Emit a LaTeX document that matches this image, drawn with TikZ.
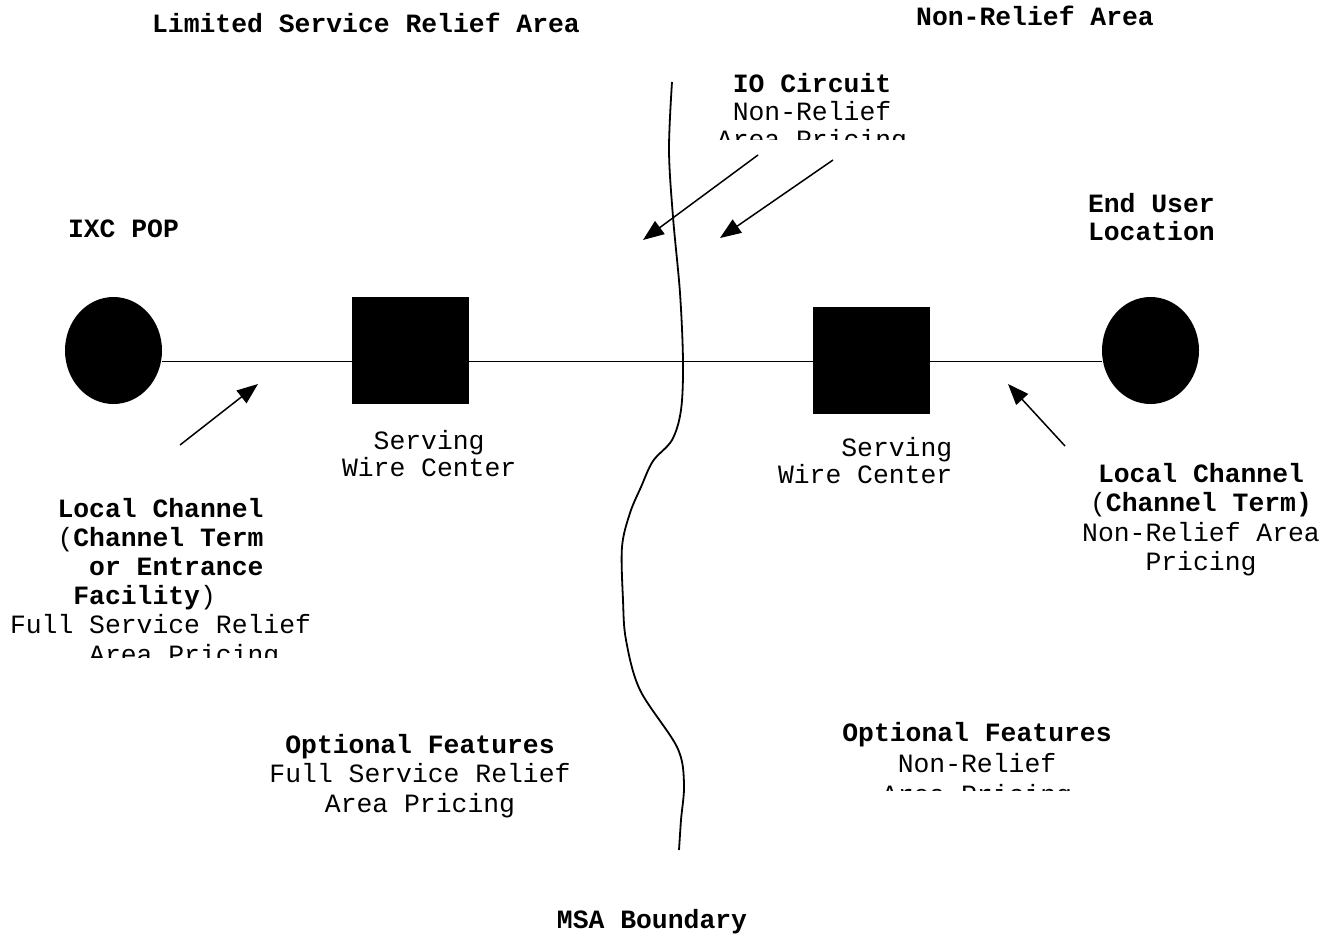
\documentclass[tikz,border=0pt]{standalone}
\usepackage{fontspec}
\setmainfont{Liberation Mono}
\usetikzlibrary{arrows.meta,shapes.geometric}
\begin{document}
\begin{tikzpicture}[x=1pt,y=-1pt,
  lbl/.style={inner sep=0pt, outer sep=0pt, font=\fontsize{26.4pt}{29pt}\selectfont},
  bl/.style={lbl, font=\fontsize{26.4pt}{29pt}\selectfont\bfseries},
  blob/.style={ellipse, fill=black, draw=none, inner sep=0pt, minimum width=97pt, minimum height=107pt},
  swc/.style={rectangle, fill=black, draw=none, inner sep=0pt, minimum width=117pt, minimum height=107pt},
  wire/.style={line width=1.8pt},
  ptr/.style={line width=1.5pt, -{Triangle[length=21pt,width=16pt]}},
  msa/.style={line width=1.8pt}]
\useasboundingbox (0,0) rectangle (1339,937);

% titles
\node[bl,anchor=base] (ttlL) at (366,32) {Limited Service Relief Area};
\node[bl,anchor=base] (ttlR) at (1035,25) {Non-Relief Area};
\node[bl,anchor=base] (msaT) at (652,928) {MSA Boundary};

% MSA boundary
\draw[msa] plot[smooth, tension=0.55] coordinates {(672,82) (669,150) (673,217) (680,293) (683,362) (681,410) (672,440) (653,461) (641,487) (630,513) (622,547) (623,600) (626,640) (640,690) (677,747) (684,783) (681,820) (679,850)};

% line and nodes
\node[blob] (lell) at (113.5,350.5) {};
\node[blob] (rell) at (1150.5,350.5) {};
\draw[wire] ([yshift=-11pt]lell.east) -- ([yshift=-11pt]rell.west);
\node[swc] (lsq) at (410.5,350.5) {};
\node[swc] (rsq) at (871.5,360.5) {};

% labels (multi-line nodes: base anchor = last line's baseline)
\node[bl,anchor=base west] (ixc) at (68,237) {IXC POP};
\node[bl,anchor=base west,align=left,font=\fontsize{26.4pt}{28pt}\selectfont\bfseries] (eul) at (1088,240) {End User\\Location};

\node[lbl,anchor=base west,align=left,font=\fontsize{26.4pt}{27.5pt}\selectfont] (lswc) at (342,476.5) {\hspace*{1.2em}Serving\\Wire Center};
\node[lbl,anchor=base west,align=left,font=\fontsize{26.4pt}{27.5pt}\selectfont] (rswc) at (778,483.5) {\hspace*{2.4em}Serving\\Wire Center};

\begin{scope}
  \clip (690,60) rectangle (940,139);
  \node[lbl,anchor=base,align=center,font=\fontsize{26.4pt}{28pt}\selectfont] (io) at (812,148) {\textbf{IO Circuit}\\Non-Relief\\Area Pricing};
\end{scope}

\begin{scope}
  \clip (0,480) rectangle (340,657);
  \node[lbl,anchor=base west,align=left,font=\fontsize{26.4pt}{29.2pt}\selectfont] (llc) at (10,663) {\hspace*{1.8em}\textbf{Local Channel}\\\hspace*{1.8em}(\textbf{Channel Term}\\\hspace*{3.0em}\textbf{or Entrance}\\\hspace*{2.4em}\textbf{Facility})\\Full Service Relief\\\hspace*{3.0em}Area Pricing};
\end{scope}

\node[lbl,anchor=base,align=center,font=\fontsize{26.4pt}{29.5pt}\selectfont] (rlc) at (1201,570.5) {\textbf{Local Channel}\\(\textbf{Channel Term)}\\Non-Relief Area\\Pricing};

\node[lbl,anchor=base,align=center,font=\fontsize{26.4pt}{29.5pt}\selectfont] (lof) at (420,812) {\textbf{Optional Features}\\Full Service Relief\\Area Pricing};

\begin{scope}
  \clip (800,700) rectangle (1150,790);
  \node[lbl,anchor=base,align=center,font=\fontsize{26.4pt}{31pt}\selectfont] (rof) at (977,803) {\textbf{Optional Features}\\Non-Relief\\Area Pricing};
\end{scope}

% arrows
\coordinate (a1s) at (180,445); \coordinate (a1e) at (258,384);
\coordinate (a2s) at (1065,446); \coordinate (a2e) at (1008,384);
\coordinate (a3s) at (758,155); \coordinate (a3e) at (643,240);
\coordinate (a4s) at (833,160); \coordinate (a4e) at (720,238);
\draw[ptr] (a1s) -- (a1e);
\draw[ptr] (a2s) -- (a2e);
\draw[ptr] (a3s) -- (a3e);
\draw[ptr] (a4s) -- (a4e);
\end{tikzpicture}
\end{document}
